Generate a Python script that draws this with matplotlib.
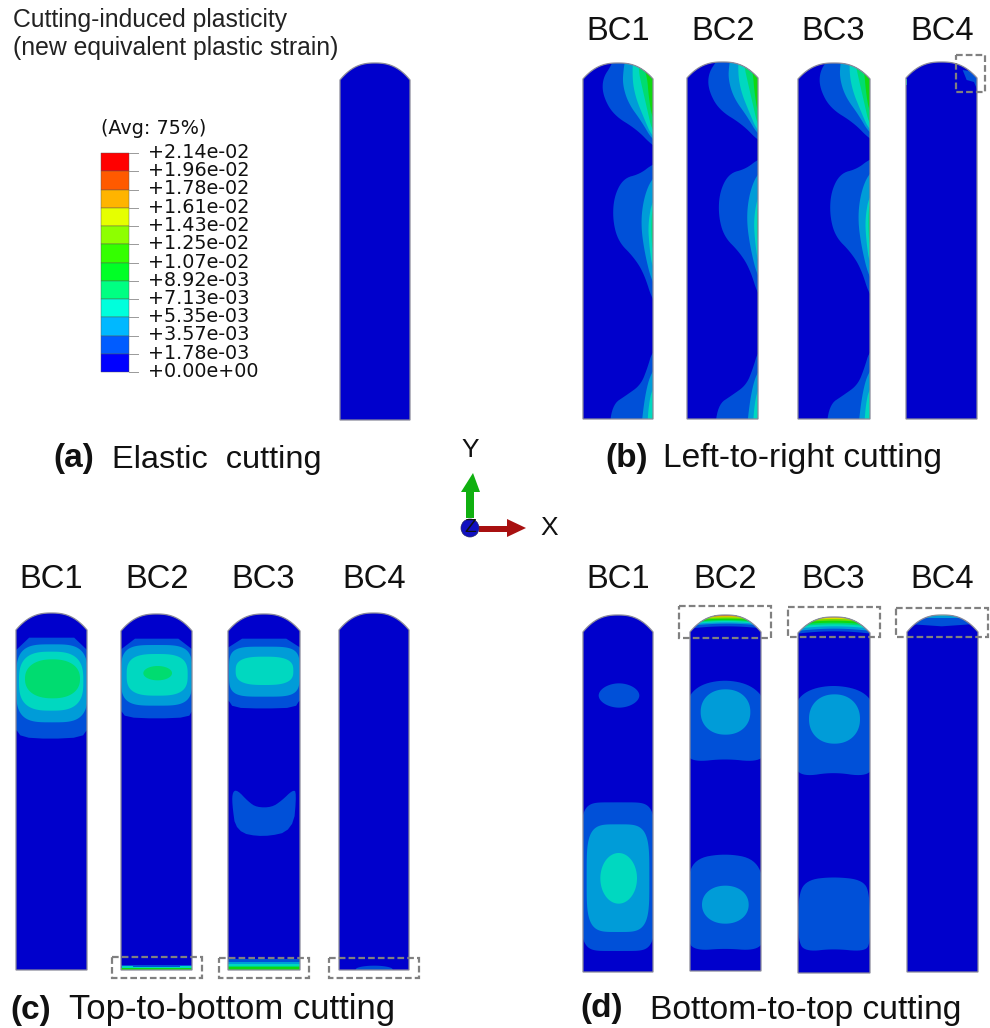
import numpy as np
import matplotlib
matplotlib.use("Agg")
import matplotlib.pyplot as plt
from matplotlib.patches import Polygon, Rectangle, Circle

W, H = 990, 1028
BASE = "#0000CC"
LEVELS = ["#0000CC", "#0050D8", "#009CD8", "#00D8C0", "#00DC70", "#10D810",
          "#70DC00", "#DCDC00", "#E88000", "#C83010"]
legend_colors = ["#FF0000", "#FF5A00", "#FFB400", "#E6FF00", "#8EFF00", "#34FF00",
                 "#00FF26", "#00FF82", "#00FFDC", "#00B8FF", "#005CFF", "#0000FF"]
legend_labels = ["+2.14e-02", "+1.96e-02", "+1.78e-02", "+1.61e-02", "+1.43e-02",
                 "+1.25e-02", "+1.07e-02", "+8.92e-03", "+7.13e-03", "+5.35e-03",
                 "+3.57e-03", "+1.78e-03", "+0.00e+00"]
bc_names = ["BC1", "BC2", "BC3", "BC4"]

# Specimen outlines in image pixels: x0, x1, dome top, shoulder, bottom
spec_a = (340, 410, 63, 80, 420)
specs_b = [(583, 653, 63, 79, 419), (687, 758, 62, 78, 419),
           (798, 870, 63, 79, 419), (906, 977, 62, 78, 419)]
specs_c = [(16, 87, 613, 630, 970), (121, 192, 614, 631, 970),
           (228, 300, 614, 631, 970), (339, 409, 613, 630, 970)]
specs_d = [(583, 653, 615, 632, 972), (690, 761, 615, 632, 971),
           (798, 870, 617, 633, 973), (907, 978, 615, 632, 972)]

# Contour control polygons in 3x crop coordinates: (level, points)
b_top = [
    (1, [(300, 345), (248, 318), (200, 268), (130, 225), (98, 165), (98, 115), (125, 75), (145, 20), (300, 20)]),
    (2, [(300, 330), (248, 302), (215, 245), (175, 190), (158, 135), (160, 90), (172, 20), (300, 20)]),
    (3, [(300, 320), (248, 295), (220, 230), (196, 170), (186, 110), (192, 20), (300, 20)]),
    (4, [(300, 310), (248, 280), (232, 210), (216, 140), (205, 90), (208, 20), (300, 20)]),
    (5, [(300, 270), (248, 245), (236, 170), (232, 115), (220, 78), (220, 40), (300, 40)]),
]
b_mid = [
    (1, [(300, 355), (248, 372), (210, 402), (160, 415), (132, 470), (128, 540), (145, 605), (190, 650), (222, 700), (250, 790), (300, 830)]),
    (2, [(300, 380), (248, 410), (222, 470), (212, 550), (224, 640), (248, 735), (300, 800)]),
    (3, [(300, 440), (248, 475), (234, 550), (238, 620), (248, 690), (300, 740)]),
    (4, [(300, 460), (248, 495), (243, 560), (248, 645), (300, 690)]),
]
b_bot = [
    (1, [(300, 900), (248, 930), (232, 985), (212, 1035), (170, 1065), (125, 1095), (116, 1200), (300, 1200)]),
    (2, [(300, 950), (248, 985), (225, 1060), (210, 1200), (300, 1200)]),
    (3, [(300, 1000), (248, 1040), (235, 1100), (230, 1200), (300, 1200)]),
    (4, [(300, 1050), (248, 1090), (244, 1200), (300, 1200)]),
]
b_shift = [(0, 0, 0), (317, -15, -15), (651, -20, -15)]
b4_regions = [
    (1, [(1178, 90), (1190, 120), (1212, 126), (1222, 150), (1245, 100)]),
    (3, [(1000, 118), (1012, 118), (1012, 135), (1000, 135)]),
]

# Panel (c): superellipse blobs (specimen, level, x0, x1, y0, y1, exponent)
c_blobs = [
    (0, 2, 48, 264, 163, 397, 3.6), (0, 3, 57, 250, 185, 362, 2.9), (0, 4, 75, 240, 208, 325, 2.3),
    (1, 2, 363, 577, 165, 347, 3.8), (1, 3, 380, 563, 192, 317, 3.0), (1, 4, 430, 516, 228, 271, 2.0),
    (2, 2, 687, 899, 170, 320, 4.2), (2, 3, 707, 880, 200, 285, 2.9),
    (3, 1, 1067, 1178, 1127, 1150, 2.0),
]
# Panel (c): straight polygons (specimen, level, points, corner cuts)
c_polys = [
    (0, 1, [(20, 143), (290, 143), (290, 400), (262, 418), (245, 442), (150, 447), (65, 442), (48, 418), (20, 400)], 1),
    (1, 1, [(340, 146), (600, 146), (600, 345), (577, 362), (565, 382), (470, 386), (378, 382), (363, 362), (340, 345)], 1),
    (2, 1, [(660, 146), (925, 146), (925, 315), (899, 330), (885, 353), (790, 356), (700, 353), (685, 330), (660, 315)], 1),
    (2, 1, [(696, 640), (698, 605), (712, 600), (745, 635), (770, 652), (815, 652), (845, 632), (878, 600), (890, 606), (880, 722), (790, 742), (708, 726)], 2),
    (1, 1, [(355, 1125), (585, 1125), (585, 1145), (355, 1145)], 0),
    (1, 3, [(400, 1130), (540, 1130), (540, 1145), (400, 1145)], 0),
    (1, 3, [(365, 1128), (400, 1128), (400, 1145), (365, 1145)], 0),
    (1, 3, [(540, 1128), (576, 1128), (576, 1145), (540, 1145)], 0),
    (1, 5, [(355, 1134), (585, 1134), (585, 1145), (355, 1145)], 0),
    (2, 1, [(680, 1107), (905, 1107), (905, 1145), (680, 1145)], 0),
    (2, 2, [(680, 1116), (905, 1116), (905, 1145), (680, 1145)], 0),
    (2, 3, [(680, 1122), (905, 1122), (905, 1145), (680, 1145)], 0),
    (2, 4, [(680, 1128), (905, 1128), (905, 1145), (680, 1145)], 0),
    (2, 5, [(680, 1131), (905, 1131), (905, 1145), (680, 1145)], 0),
]

# Panel (d)
d_blobs = [
    (0, 1, 86, 208, 280, 353, 1.9), (0, 1, 32, 256, 637, 1083, 6.0), (0, 2, 50, 238, 703, 1026, 4.2),
    (0, 3, 91, 201, 789, 941, 2.0),
    (1, 2, 392, 541, 298, 434, 2.15), (1, 2, 396, 536, 887, 1001, 2.1),
    (2, 2, 717, 870, 313, 461, 2.15),
]
d_polys = [
    (1, 1, [(345, 335), (385, 285), (465, 268), (545, 285), (590, 335), (590, 490), (560, 516), (465, 506), (372, 516), (345, 490)], 3),
    (1, 1, [(350, 880), (372, 806), (465, 790), (556, 806), (585, 880), (585, 1055), (553, 1082), (465, 1075), (380, 1082), (350, 1055)], 3),
    (2, 1, [(670, 345), (710, 300), (790, 284), (875, 300), (915, 345), (915, 530), (885, 560), (790, 546), (700, 560), (670, 530)], 3),
    (2, 1, [(684, 1060), (684, 920), (708, 870), (790, 860), (882, 870), (900, 920), (902, 1060), (882, 1085), (790, 1076), (712, 1085)], 3),
    (3, 1, [(1015, 102), (1115, 109), (1215, 102), (1180, 60), (1050, 60)], 0),
    (3, 2, [(1050, 85), (1180, 85), (1180, 60), (1050, 60)], 0),
    (3, 3, [(1075, 79), (1150, 79), (1150, 60), (1075, 60)], 0),
]
# Dome bands in crop coordinates: lower y of each level
d2_dome = [(1, 112), (2, 104), (3, 100), (4, 96), (5, 93), (6, 89), (7, 85), (8, 82), (9, 79)]
d3_dome = [(1, 127), (2, 119), (3, 112), (4, 106), (5, 101), (6, 95), (7, 90), (8, 85)]

# Dashed boxes in crop coordinates: x0, y0, x1, y1
b_boxes = [(1157, 45, 1245, 157)]
c_boxes = [(335, 1102, 605, 1163), (657, 1104, 928, 1164), (987, 1104, 1257, 1164)]
d_boxes = [(327, 48, 604, 143), (655, 52, 931, 142), (978, 53, 1255, 142)]

OFF_B = (570, 40)
OFF_C = (0, 590)
OFF_D = (570, 590)

fig = plt.figure(figsize=(W / 100, H / 100), dpi=100)
ax = fig.add_axes([0, 0, 1, 1])
ax.set_xlim(0, W)
ax.set_ylim(H, 0)
ax.axis("off")


def to_px(pts, off):
    return np.asarray(pts, float) / 3.0 + np.asarray(off, float)


def chaikin(p, iters):
    p = np.asarray(p, float)
    for _ in range(iters):
        q = np.roll(p, -1, axis=0)
        p = np.column_stack([0.75 * p + 0.25 * q, 0.25 * p + 0.75 * q]).reshape(-1, 2)
    return p


def superellipse(x0, x1, y0, y1, e):
    t = np.linspace(0, 2 * np.pi, 120, endpoint=False)
    c, s = np.cos(t), np.sin(t)
    return np.column_stack([(x0 + x1) / 2 + (x1 - x0) / 2 * np.sign(c) * np.abs(c) ** (2 / e),
                            (y0 + y1) / 2 + (y1 - y0) / 2 * np.sign(s) * np.abs(s) ** (2 / e)])


def specimen(spec):
    x0, x1, top, sh, bot = spec
    h = sh - top
    xs = np.linspace(x0, x1, 70)
    u = (xs - (x0 + x1) / 2) / ((x1 - x0) / 2)
    ys = top + h * np.abs(u) ** 2.5
    pts = np.vstack([np.column_stack([xs, ys]), [x1, bot], [x0, bot]])
    patch = Polygon(pts, closed=True, fc=BASE, ec="none", zorder=2)
    ax.add_patch(patch)
    return patch, pts


def outline(pts):
    ax.add_patch(Polygon(pts, closed=True, fc="none", ec="#8a8a9a", lw=0.9, zorder=6))


def fill(level, poly, clip):
    p = Polygon(poly, closed=True, fc=LEVELS[level], ec="none", zorder=3 + level * 0.01)
    ax.add_patch(p)
    p.set_clip_path(clip)


def dashed(boxes, off):
    for x0, y0, x1, y1 in boxes:
        (a, b), (c, d) = to_px([(x0, y0), (x1, y1)], off)
        ax.add_patch(Rectangle((a, b), c - a, d - b, fc="none", ec="#808080", lw=1.6,
                               ls=(0, (3, 1.4)), zorder=7))


# Panel (a)
patch, pts = specimen(spec_a)
outline(pts)

# Panel (b)
for i, spec in enumerate(specs_b):
    patch, pts = specimen(spec)
    if i < 3:
        dx, dy_top, dy_mid = b_shift[i]
        for group, dy in ((b_top, dy_top), (b_mid, dy_mid), (b_bot, 0)):
            for level, raw in group:
                moved = [(x + dx, y + dy) for x, y in raw]
                fill(level, chaikin(to_px(moved, OFF_B), 3), patch)
    else:
        for level, raw in b4_regions:
            fill(level, to_px(raw, OFF_B), patch)
    outline(pts)
dashed(b_boxes, OFF_B)


def draw_panel(specs, polys, blobs, off):
    made = [specimen(s) for s in specs]
    for idx, level, raw, cuts in polys:
        fill(level, chaikin(to_px(raw, off), cuts), made[idx][0])
    for idx, level, x0, x1, y0, y1, e in blobs:
        fill(level, to_px(superellipse(x0, x1, y0, y1, e), off), made[idx][0])
    return made


# Panel (c)
made_c = draw_panel(specs_c, c_polys, c_blobs, OFF_C)
for _, pts in made_c:
    outline(pts)
dashed(c_boxes, OFF_C)

# Panel (d)
made_d = draw_panel(specs_d, d_polys, d_blobs, OFF_D)
for bands, idx, xa, xb in ((d2_dome, 1, 350, 590), (d3_dome, 2, 675, 910)):
    xc = (xa + xb) / 2
    xs = np.linspace(xa, xb, 30)
    for level, yb in bands:
        lower = yb + 8 * ((xs - xc) / (xb - xc)) ** 2 - 3
        band = np.vstack([[(xa, 50), (xb, 50)], np.column_stack([xs, lower])[::-1]])
        fill(level, to_px(band, OFF_D), made_d[idx][0])
for _, pts in made_d:
    outline(pts)
dashed(d_boxes, OFF_D)

# Legend
LEG = "DejaVu Sans"
bar_x, bar_w, bar_top, bar_bot = 101, 28, 153, 372
edges = np.linspace(bar_top, bar_bot, len(legend_colors) + 1)
for c, y0, y1 in zip(legend_colors, edges[:-1], edges[1:]):
    ax.add_patch(Rectangle((bar_x, y0), bar_w, y1 - y0, fc=c, ec="#555555", lw=0.3, zorder=3))
tick_y = np.linspace(bar_top, bar_bot, len(legend_labels))
for lab, y in zip(legend_labels, tick_y):
    ax.plot([bar_x + bar_w, 138], [y, y], color="#999999", lw=0.7, zorder=3)
    ax.text(148, y - 0.5, lab, fontsize=13.8, family=LEG, color="#111111", va="center", ha="left")
ax.text(101, 129, "(Avg: 75%)", fontsize=13.8, family=LEG, color="#111111", va="center", ha="left")

SANS = "Liberation Sans"
ax.text(13, 20, "Cutting-induced plasticity", fontsize=17.8, family=SANS, color="#222222", va="center")
ax.text(13, 48, "(new equivalent plastic strain)", fontsize=17.8, family=SANS, color="#222222", va="center")

# BC headings
for xs, y in (((618, 723, 833, 942), 31), ((51, 157, 263, 374), 579), ((618, 725, 833, 942), 579)):
    for name, x in zip(bc_names, xs):
        ax.text(x, y, name, fontsize=23.5, family=SANS, color="#111111", ha="center", va="center")

# Panel captions
caption_letters = [("(a)", 53, 458), ("(b)", 605, 458), ("(c)", 10, 1010), ("(d)", 580, 1009)]
caption_texts = [("Elastic  cutting", 112, 460, 23.4), ("Left-to-right cutting", 663, 459, 24.1),
                 ("Top-to-bottom cutting", 69, 1010, 25), ("Bottom-to-top cutting", 650, 1010, 24.2)]
for s, x, y in caption_letters:
    ax.text(x, y, s, fontsize=24, family=SANS, weight="bold", color="#111111", va="center")
for s, x, y, size in caption_texts:
    ax.text(x, y, s, fontsize=size, family=SANS, color="#111111", va="center")

# Axis triad
ax.add_patch(Polygon([(466, 518), (466, 492), (461, 492), (473, 473), (480, 492), (474, 492), (474, 518)],
                     closed=True, fc="#10B010", ec="none", zorder=5))
ax.add_patch(Polygon([(479, 526), (507, 526), (507, 519), (526, 528), (507, 537), (507, 532), (479, 532)],
                     closed=True, fc="#A81010", ec="none", zorder=5))
ax.add_patch(Circle((470, 528), 9, fc="#1010C0", ec="#222266", lw=0.5, zorder=6))
ax.text(470, 527, "Z", fontsize=14, family=SANS, color="#111111", ha="center", va="center", zorder=7)
ax.text(470, 450, "Y", fontsize=19, family=SANS, color="#111111", ha="center", va="center")
ax.text(549, 528, "X", fontsize=19, family=SANS, color="#111111", ha="center", va="center")

fig.savefig("out.png", dpi=100)
